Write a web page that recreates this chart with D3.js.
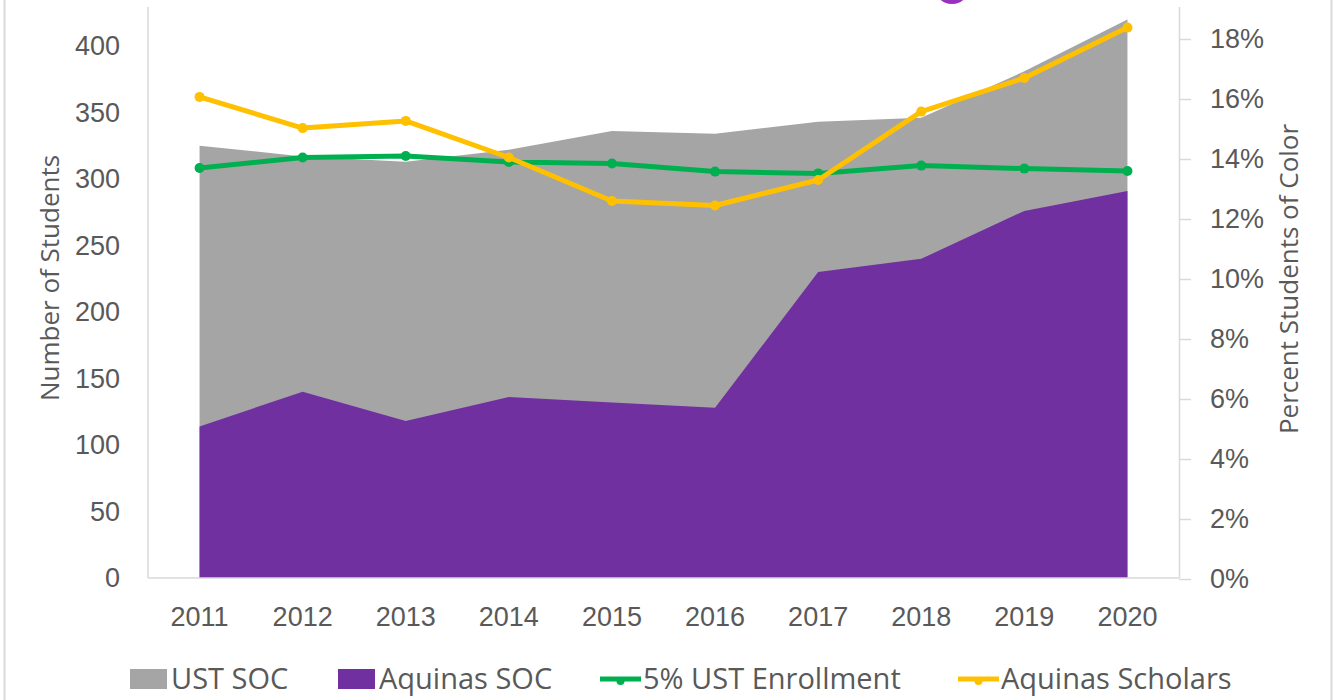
<!DOCTYPE html>
<html>
<head>
<meta charset="utf-8">
<script src="https://cdn.jsdelivr.net/npm/d3@7"></script>
<style>
  body { margin: 0; background: #fff; }
  svg { display: block; font-family: "Open Sans", sans-serif; }
</style>
</head>
<body>
<div id="chart"></div>
<script>
// Chart data
const years = ["2011", "2012", "2013", "2014", "2015", "2016", "2017", "2018", "2019", "2020"];
const ustSoc = [325, 317, 313, 322, 336, 334, 343, 346, 381, 420];
const aquinasSoc = [114, 140, 118, 136, 132, 128, 230, 240, 276, 291];
const ustEnrollmentPct = [13.7, 14.05, 14.1, 13.9, 13.85, 13.58, 13.52, 13.78, 13.68, 13.6];
const scholarsPct = [16.07, 15.03, 15.27, 14.05, 12.6, 12.45, 13.3, 15.58, 16.7, 18.38];
const leftTicks = [0, 50, 100, 150, 200, 250, 300, 350, 400];
const rightTicks = [0, 2, 4, 6, 8, 10, 12, 14, 16, 18];

const W = 1339, H = 700;
const plot = { left: 148, right: 1179, top: 7, bottom: 578 };
const textColor = "#595959";
const axisColor = "#d9d9d9";

const svg = d3.select("#chart")
    .append("svg")
    .attr("width", W)
    .attr("height", H);

// Slide frame lines and the partial circle at the top
svg.append("line")
    .attr("x1", 4.5).attr("x2", 4.5).attr("y1", 0).attr("y2", H)
    .attr("stroke", "#d9d9d9").attr("stroke-width", 2);
svg.append("line")
    .attr("x1", 1331.5).attr("x2", 1331.5).attr("y1", 0).attr("y2", H)
    .attr("stroke", "#d9d9d9").attr("stroke-width", 2);
svg.append("circle")
    .attr("cx", 952).attr("cy", -14).attr("r", 18)
    .attr("fill", "#9b2fc0");

// Scales
const x = d3.scaleBand()
    .domain(years)
    .range([plot.left, plot.right]);
const xc = d => x(d) + x.bandwidth() / 2;

const y = d3.scaleLinear()
    .domain([0, 400])
    .range([plot.bottom, 46]);

const y2 = d3.scaleLinear()
    .domain([0, 18])
    .range([plot.bottom + 1, 39]);

// Areas (overlapping, both from zero)
const area = d3.area()
    .x(d => xc(d.year))
    .y0(y(0))
    .y1(d => y(d.value));

svg.append("path")
    .datum(years.map((yr, i) => ({ year: yr, value: ustSoc[i] })))
    .attr("d", area)
    .attr("fill", "#a5a5a5");

svg.append("path")
    .datum(years.map((yr, i) => ({ year: yr, value: aquinasSoc[i] })))
    .attr("d", area)
    .attr("fill", "#7030a0");

// Axis lines
svg.append("line")
    .attr("x1", plot.left).attr("x2", plot.left)
    .attr("y1", plot.top).attr("y2", plot.bottom)
    .attr("stroke", axisColor).attr("stroke-width", 1.5);
svg.append("line")
    .attr("x1", plot.left).attr("x2", plot.right)
    .attr("y1", plot.bottom).attr("y2", plot.bottom)
    .attr("stroke", axisColor).attr("stroke-width", 1.5);

// Left axis
const leftAxis = svg.append("g")
    .attr("transform", `translate(${plot.left},0)`)
    .call(d3.axisLeft(y).tickValues(leftTicks).tickSize(0).tickPadding(28));
leftAxis.select(".domain").remove();
leftAxis.selectAll("text")
    .attr("fill", textColor)
    .style("font-size", "27px");

// Right axis
const rightAxis = svg.append("g")
    .attr("transform", `translate(${plot.right},0)`)
    .call(d3.axisRight(y2).tickValues(rightTicks).tickSize(12).tickPadding(19)
        .tickFormat(d => d + "%"));
rightAxis.select(".domain")
    .attr("d", `M0.5,${plot.top}V${plot.bottom}`)
    .attr("stroke", axisColor).attr("stroke-width", 1.5);
rightAxis.selectAll(".tick line").attr("stroke", axisColor).attr("stroke-width", 1.5);
rightAxis.selectAll("text")
    .attr("fill", textColor)
    .style("font-size", "27px");

// Bottom axis labels
const bottomAxis = svg.append("g")
    .attr("transform", `translate(0,${plot.bottom})`)
    .call(d3.axisBottom(x).tickSize(0).tickPadding(29));
bottomAxis.select(".domain").remove();
bottomAxis.selectAll("text")
    .attr("fill", textColor)
    .style("font-size", "27px");

// Lines on the right axis
const line = d3.line()
    .x(d => xc(d.year))
    .y(d => y2(d.value));

const lineSeries = [
    { name: "5% UST Enrollment", color: "#00b050", values: ustEnrollmentPct },
    { name: "Aquinas Scholars", color: "#ffc000", values: scholarsPct }
];

lineSeries.forEach(s => {
    const pts = years.map((yr, i) => ({ year: yr, value: s.values[i] }));
    svg.append("path")
        .datum(pts)
        .attr("d", line)
        .attr("fill", "none")
        .attr("stroke", s.color)
        .attr("stroke-width", 5)
        .attr("stroke-linejoin", "round");
    svg.selectAll(null)
        .data(pts)
        .enter()
        .append("circle")
        .attr("cx", d => xc(d.year))
        .attr("cy", d => y2(d.value))
        .attr("r", 5)
        .attr("fill", s.color);
});

// Axis titles
svg.append("text")
    .attr("transform", "translate(59,278) rotate(-90)")
    .attr("text-anchor", "middle")
    .attr("fill", textColor)
    .style("font-size", "26px")
    .text("Number of Students");

svg.append("text")
    .attr("transform", "translate(1298,279) rotate(-90)")
    .attr("text-anchor", "middle")
    .attr("fill", textColor)
    .style("font-size", "26px")
    .text("Percent Students of Color");

// Legend
const legendY = 679;
const legend = [
    { name: "UST SOC", type: "rect", color: "#a5a5a5", x: 130 },
    { name: "Aquinas SOC", type: "rect", color: "#7030a0", x: 338 },
    { name: "5% UST Enrollment", type: "line", color: "#00b050", x: 600 },
    { name: "Aquinas Scholars", type: "line", color: "#ffc000", x: 958 }
];

legend.forEach(item => {
    const g = svg.append("g").attr("transform", `translate(${item.x},${legendY})`);
    if (item.type === "rect") {
        g.append("rect")
            .attr("x", 0).attr("y", -10)
            .attr("width", 37).attr("height", 20)
            .attr("fill", item.color);
    } else {
        g.append("line")
            .attr("x1", 0).attr("x2", 41).attr("y1", 0).attr("y2", 0)
            .attr("stroke", item.color).attr("stroke-width", 5);
        g.append("circle")
            .attr("cx", 20.5).attr("cy", 2).attr("r", 4)
            .attr("fill", item.color);
    }
    g.append("text")
        .attr("x", item.type === "rect" ? 41 : 43)
        .attr("y", 0)
        .attr("dy", "0.35em")
        .attr("fill", textColor)
        .style("font-size", "29px")
        .text(item.name);
});
</script>
</body>
</html>
